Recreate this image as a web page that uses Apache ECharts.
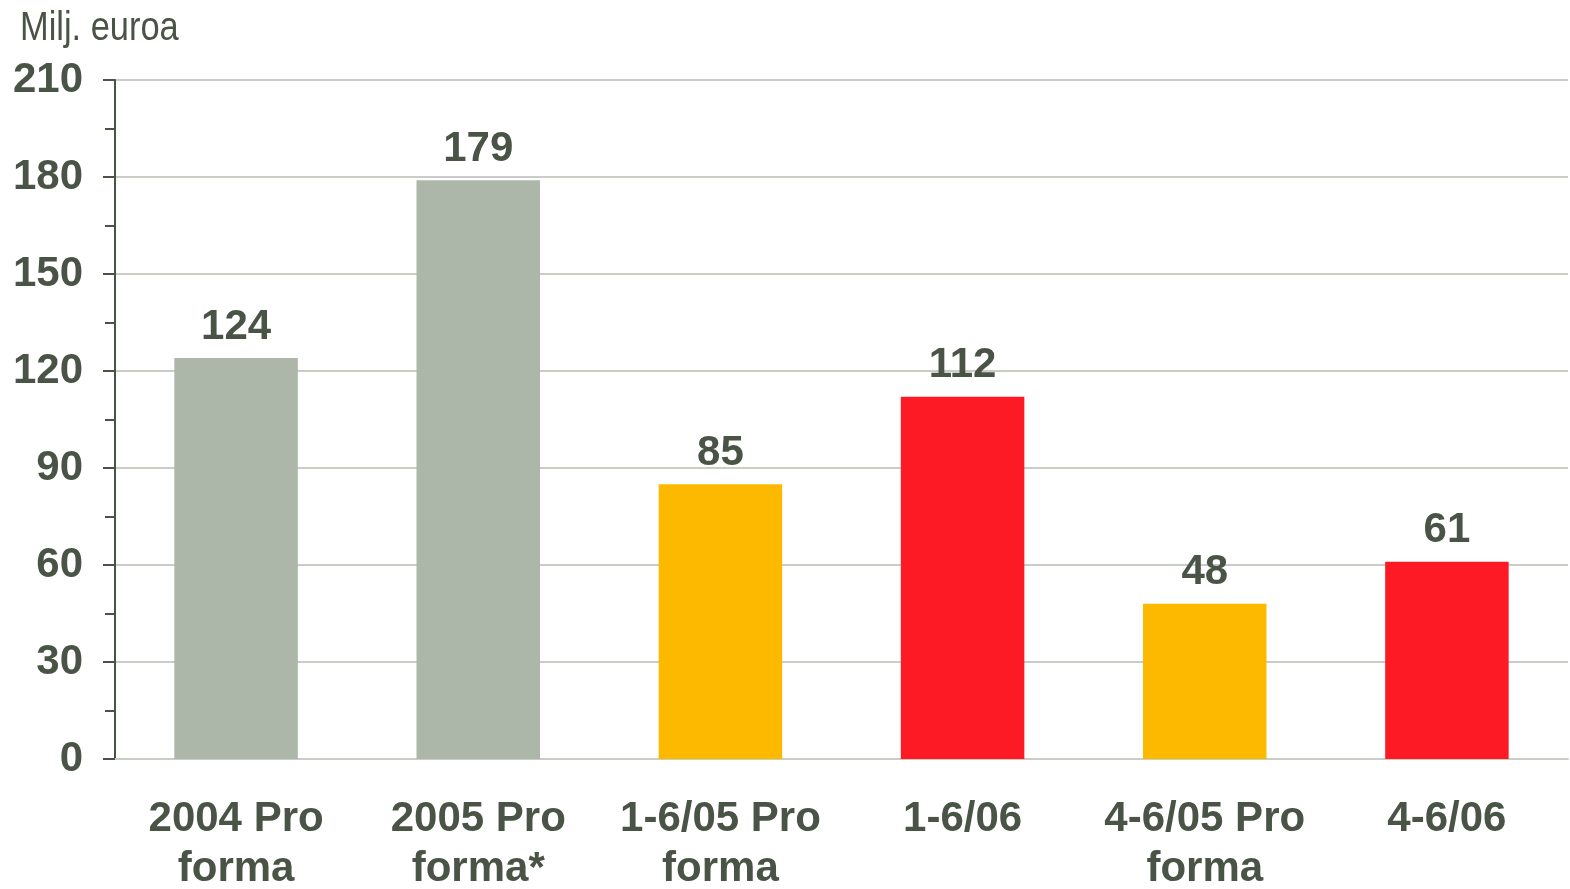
<!DOCTYPE html>
<html>
<head>
<meta charset="utf-8">
<script src="https://cdn.jsdelivr.net/npm/echarts@6/dist/echarts.min.js"></script>
<style>
html,body{margin:0;padding:0;background:#fff;}
#c{width:1570px;height:889px;}
</style>
</head>
<body>
<div id="c"></div>
<script>
const categories = ["2004 Pro\nforma", "2005 Pro\nforma*", "1-6/05 Pro\nforma", "1-6/06", "4-6/05 Pro\nforma", "4-6/06"];
const values = [124, 179, 85, 112, 48, 61];
const yTicks = [0, 30, 60, 90, 120, 150, 180, 210];

const barColors = ["#acb7aa", "#acb7aa", "#fdb900", "#fd1a24", "#fdb900", "#fd1a24"];
const textColor = "#4a5446";

const chart = echarts.init(document.getElementById('c'));
chart.setOption({
  animation: false,
  backgroundColor: '#fff',
  grid: { left: 115, right: 2, top: 80, bottom: 130, containLabel: false, outerBoundsMode: 'none' },
  graphic: [{
    type: 'text', x: 20, y: 9, scaleX: 0.86,
    style: { text: 'Milj. euroa', fill: textColor, font: '40px "Liberation Sans", Arial, sans-serif' }
  }],
  xAxis: {
    type: 'category',
    data: categories,
    axisLine: { show: true, lineStyle: { color: '#c8cec6', width: 2 } },
    axisTick: { show: false },
    axisLabel: {
      color: textColor, fontSize: 42, fontWeight: 'bold',
      fontFamily: '"Liberation Sans", Arial, sans-serif',
      lineHeight: 50, margin: 35, interval: 0
    }
  },
  yAxis: {
    type: 'value', min: yTicks[0], max: yTicks[yTicks.length - 1], interval: 30,
    axisLine: { show: true, lineStyle: { color: textColor, width: 2 } },
    axisTick: { show: true, inside: false, length: 12, lineStyle: { color: textColor, width: 2 } },
    minorTick: { show: true, splitNumber: 2, length: 10, lineStyle: { color: textColor, width: 2 } },
    splitLine: { show: true, lineStyle: { color: '#c8cec6', width: 2 } },
    axisLabel: {
      color: textColor, fontSize: 42, fontWeight: 'bold',
      fontFamily: '"Liberation Sans", Arial, sans-serif', margin: 32
    }
  },
  series: [{
    type: 'bar',
    data: values.map((v, i) => ({ value: v, itemStyle: { color: barColors[i] } })),
    barWidth: '51%',
    label: {
      show: true, position: 'top', distance: 10,
      color: textColor, fontSize: 42, fontWeight: 'bold',
      fontFamily: '"Liberation Sans", Arial, sans-serif'
    }
  }]
});
</script>
</body>
</html>
